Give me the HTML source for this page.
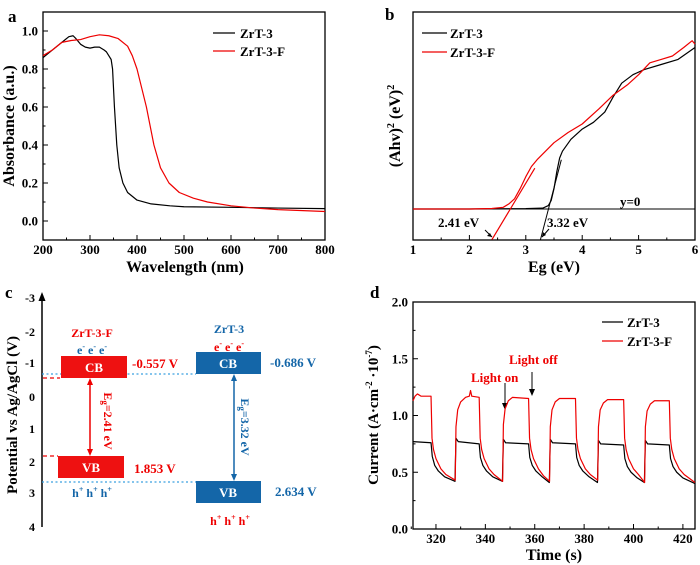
<!DOCTYPE html>
<html><head><meta charset="utf-8">
<style>
html,body{margin:0;padding:0;background:#fff;}
svg{display:block;font-family:"Liberation Serif",serif;font-weight:bold;}
</style></head>
<body>
<svg id="fig" width="700" height="565" viewBox="0 0 700 565">
  <g>
    <text x="8" y="22" font-size="17">a</text>
    <rect x="43" y="12" width="282" height="228" fill="none" stroke="#000" stroke-width="1.3"/>
    <text x="185" y="272" font-size="16" text-anchor="middle">Wavelength (nm)</text>
    <text transform="translate(14,126) rotate(-90)" font-size="16" text-anchor="middle">Absorbance (a.u.)</text>
    <line x1="213" y1="33" x2="235" y2="33" stroke="#000" stroke-width="1.2"/>
    <text x="240" y="38" font-size="13">ZrT-3</text>
    <line x1="213" y1="51" x2="235" y2="51" stroke="#e00" stroke-width="1.2"/>
    <text x="240" y="56" font-size="13">ZrT-3-F</text>
  </g>
  <g>
    <text x="385" y="20" font-size="17">b</text>
    <rect x="413" y="12" width="282" height="228" fill="none" stroke="#000" stroke-width="1.3"/>
    <text x="554" y="272" font-size="16" text-anchor="middle">Eg (eV)</text>
    <text transform="translate(400,126) rotate(-90)" font-size="16" text-anchor="middle">(Ahv)<tspan font-size="10" dy="-6">2</tspan><tspan dy="6"> (eV)</tspan><tspan font-size="10" dy="-6">2</tspan></text>
    <line x1="422" y1="33" x2="447" y2="33" stroke="#000" stroke-width="1.2"/>
    <text x="450" y="38" font-size="13">ZrT-3</text>
    <line x1="422" y1="52" x2="447" y2="52" stroke="#e00" stroke-width="1.2"/>
    <text x="450" y="57" font-size="13">ZrT-3-F</text>
    <text x="620" y="206" font-size="13">y=0</text>
    <text x="438" y="227" font-size="13">2.41 eV</text>
    <line x1="485" y1="230" x2="492" y2="237" stroke="#000" stroke-width="1"/>
    <path d="M492,237 l-5,-1 l3,-3 z" fill="#000"/>
    <text x="547" y="227" font-size="13">3.32 eV</text>
    <line x1="549" y1="229" x2="542" y2="237" stroke="#000" stroke-width="1"/>
    <path d="M542,237 l1,-5 l3,3 z" fill="#000"/>
  </g>
  <g>
    <text x="5" y="298" font-size="17">c</text>
    <line x1="42" y1="527" x2="42" y2="300" stroke="#000" stroke-width="1.5"/>
    <path d="M42,292 l-3.5,9 l7,0 z" fill="#000"/>
    <g font-size="12" text-anchor="end">
      <text x="35" y="302">-3</text><text x="35" y="336">-2</text><text x="35" y="367">-1</text><text x="35" y="401">0</text>
      <text x="35" y="433">1</text><text x="35" y="466">2</text><text x="35" y="497">3</text><text x="35" y="531">4</text>
    </g>
    <text transform="translate(17,415) rotate(-90)" font-size="15" text-anchor="middle">Potential vs Ag/AgCl (V)</text>
    <line x1="42" y1="374" x2="196" y2="374" stroke="#3aa0e0" stroke-width="1.3" stroke-dasharray="2,2.5"/>
    <line x1="42" y1="482" x2="196" y2="482" stroke="#3aa0e0" stroke-width="1.3" stroke-dasharray="2,2.5"/>
    <line x1="43" y1="378" x2="60" y2="378" stroke="#e00" stroke-width="1.3" stroke-dasharray="4,3"/>
    <line x1="43" y1="456" x2="58" y2="456" stroke="#e00" stroke-width="1.3" stroke-dasharray="4,3"/>
    <rect x="61" y="356" width="66" height="22" fill="#ee1111"/>
    <text x="94" y="372" font-size="13" fill="#fff" text-anchor="middle">CB</text>
    <rect x="58" y="456" width="66" height="22" fill="#ee1111"/>
    <text x="91" y="472" font-size="13" fill="#fff" text-anchor="middle">VB</text>
    <rect x="196" y="352" width="65" height="22" fill="#1466a8"/>
    <text x="228" y="368" font-size="13" fill="#fff" text-anchor="middle">CB</text>
    <rect x="196" y="481" width="65" height="22" fill="#1466a8"/>
    <text x="228" y="497" font-size="13" fill="#fff" text-anchor="middle">VB</text>
    <line x1="90" y1="384" x2="90" y2="450" stroke="#e00" stroke-width="1.5"/>
    <path d="M90,378 l-3,7 l6,0 z M90,456 l-3,-7 l6,0 z" fill="#e00"/>
    <line x1="234" y1="380" x2="234" y2="475" stroke="#1466a8" stroke-width="1.5"/>
    <path d="M234,374 l-3,7 l6,0 z M234,481 l-3,-7 l6,0 z" fill="#1466a8"/>
    <text transform="translate(104,421) rotate(90)" font-size="12" fill="#e00" text-anchor="middle">E<tspan font-size="9" dy="2">g</tspan><tspan dy="-2">=2.41 eV</tspan></text>
    <text transform="translate(241,427) rotate(90)" font-size="12" fill="#1466a8" text-anchor="middle">E<tspan font-size="9" dy="2">g</tspan><tspan dy="-2">=3.32 eV</tspan></text>
    <text x="92" y="337" font-size="12" fill="#e00" text-anchor="middle">ZrT-3-F</text>
    <text x="92" y="354" font-size="12" fill="#1466a8" text-anchor="middle">e<tspan font-size="8" dy="-5">-</tspan><tspan dy="5"> e</tspan><tspan font-size="8" dy="-5">-</tspan><tspan dy="5"> e</tspan><tspan font-size="8" dy="-5">-</tspan></text>
    <text x="132" y="368" font-size="13" fill="#e00">-0.557 V</text>
    <text x="134" y="473" font-size="13" fill="#e00">1.853 V</text>
    <text x="92" y="497" font-size="12" fill="#1466a8" text-anchor="middle">h<tspan font-size="8" dy="-5">+</tspan><tspan dy="5"> h</tspan><tspan font-size="8" dy="-5">+</tspan><tspan dy="5"> h</tspan><tspan font-size="8" dy="-5">+</tspan></text>
    <text x="229" y="333" font-size="12" fill="#1466a8" text-anchor="middle">ZrT-3</text>
    <text x="229" y="351" font-size="12" fill="#e00" text-anchor="middle">e<tspan font-size="8" dy="-5">-</tspan><tspan dy="5"> e</tspan><tspan font-size="8" dy="-5">-</tspan><tspan dy="5"> e</tspan><tspan font-size="8" dy="-5">-</tspan></text>
    <text x="270" y="367" font-size="13" fill="#1466a8">-0.686 V</text>
    <text x="275" y="496" font-size="13" fill="#1466a8">2.634 V</text>
    <text x="230" y="525" font-size="12" fill="#e00" text-anchor="middle">h<tspan font-size="8" dy="-5">+</tspan><tspan dy="5"> h</tspan><tspan font-size="8" dy="-5">+</tspan><tspan dy="5"> h</tspan><tspan font-size="8" dy="-5">+</tspan></text>
  </g>
  <g>
    <text x="370" y="298" font-size="17">d</text>
    <rect x="413" y="302" width="282" height="227" fill="none" stroke="#000" stroke-width="1.3"/>
    <text x="554" y="560" font-size="16" text-anchor="middle">Time (s)</text>
    <text transform="translate(378,415) rotate(-90)" font-size="15" text-anchor="middle">Current (A·cm<tspan font-size="9" dy="-6">-2</tspan><tspan dy="6"> ·10</tspan><tspan font-size="9" dy="-6">-7</tspan><tspan dy="6">)</tspan></text>
    <line x1="602" y1="322" x2="623" y2="322" stroke="#000" stroke-width="1.2"/>
    <text x="627" y="327" font-size="13">ZrT-3</text>
    <line x1="602" y1="341" x2="623" y2="341" stroke="#e00" stroke-width="1.2"/>
    <text x="627" y="346" font-size="13">ZrT-3-F</text>
    <text x="471" y="382" font-size="13" fill="#e00">Light on</text>
    <text x="509" y="364" font-size="13" fill="#e00">Light off</text>
    <line x1="505" y1="383" x2="505" y2="404" stroke="#000" stroke-width="1"/>
    <path d="M505,410 l-3,-7 l6,0 z" fill="#000"/>
    <line x1="532" y1="372" x2="532" y2="390" stroke="#000" stroke-width="1"/>
    <path d="M532,396 l-3,-7 l6,0 z" fill="#000"/>
  </g>
</svg>
<script>
const aTicksX = [200, 300, 400, 500, 600, 700, 800];
const aTicksY = [0.0, 0.2, 0.4, 0.6, 0.8, 1.0];
const aTickLabelsY = ["0.0", "0.2", "0.4", "0.6", "0.8", "1.0"];
const aBlackX = [200,210,230,245,255,264,270,280,290,300,310,320,330,335,340,345,348,352,357,362,370,380,400,430,470,500,600,700,800];
const aBlackY = [0.86,0.88,0.92,0.95,0.97,0.975,0.96,0.93,0.915,0.91,0.915,0.915,0.9,0.89,0.87,0.85,0.8,0.6,0.4,0.28,0.2,0.15,0.11,0.09,0.08,0.075,0.072,0.068,0.065];
const aRedX = [200,220,240,260,280,300,320,340,360,380,390,400,410,420,428,436,450,468,490,520,550,600,650,700,800];
const aRedY = [0.87,0.9,0.94,0.95,0.955,0.97,0.98,0.975,0.96,0.92,0.87,0.8,0.7,0.6,0.5,0.4,0.28,0.2,0.15,0.12,0.1,0.08,0.068,0.06,0.05];
const bTicksX = [1, 2, 3, 4, 5, 6];
const bBlackX = [1,2,3,3.3,3.4,3.45,3.5,3.55,3.6,3.65,3.8,4,4.2,4.4,4.55,4.7,4.9,5.1,5.4,5.7,6];
const bBlackY = [0,0,0.002,0.005,0.02,0.05,0.12,0.22,0.3,0.34,0.41,0.47,0.51,0.57,0.66,0.74,0.79,0.82,0.85,0.88,0.95];
const bRedX = [1,2,2.4,2.6,2.7,2.8,2.9,3.0,3.1,3.2,3.35,3.5,3.75,4,4.3,4.55,4.8,5.0,5.2,5.4,5.6,5.8,5.95,6];
const bRedY = [0,0,0.003,0.01,0.03,0.06,0.12,0.19,0.25,0.29,0.34,0.39,0.45,0.5,0.59,0.67,0.73,0.79,0.86,0.88,0.9,0.95,0.99,0.97];
const bTangentRedX = [2.4, 3.16];
const bTangentRedY = [-0.18, 0.24];
const bTangentBlackX = [3.26, 3.63];
const bTangentBlackY = [-0.18, 0.29];
const dTicksX = [320, 340, 360, 380, 400, 420];
const dTicksY = [0.0, 0.5, 1.0, 1.5, 2.0];
const dTickLabelsY = ["0.0", "0.5", "1.0", "1.5", "2.0"];
const dRedT = [310.7,311.5,312.5,314,318,318.4,319,320,322,324,327.8,
 328.1,328.8,330,332,333.5,334,334.5,337.5,337.9,338.5,339.5,341.5,343.5,347,
 347.3,348,349.3,351,357.5,357.9,358.5,359.5,361.5,363.5,366,
 366.3,367,368.3,370,376.5,376.9,377.5,378.5,380.5,382.5,385.5,
 385.8,386.5,387.8,389.5,396,396.4,397,398,400,402,404.5,
 404.8,405.5,406.8,408.5,414.5,414.9,415.5,416.5,418.5,420.5,424.9];
const dRedV = [1.13,1.17,1.19,1.17,1.17,0.8,0.7,0.62,0.53,0.48,0.43,
 0.9,1.05,1.12,1.16,1.17,1.22,1.17,1.16,0.8,0.7,0.62,0.53,0.48,0.42,
 0.92,1.06,1.13,1.16,1.15,0.8,0.7,0.62,0.53,0.47,0.42,
 0.9,1.05,1.12,1.15,1.15,0.8,0.7,0.62,0.53,0.48,0.43,
 0.9,1.05,1.11,1.14,1.14,0.8,0.7,0.62,0.53,0.48,0.41,
 0.9,1.04,1.1,1.13,1.13,0.8,0.7,0.62,0.53,0.48,0.41];
const dBlackT = [310.7,318,318.5,319.5,321,323.5,327.7,
 328.1,329,337.5,338,339,340.5,343,346.9,
 347.3,348.2,357.5,358,359,360.5,363,365.9,
 366.3,367.2,376.5,377,378,379.5,382,385.4,
 385.8,386.7,396,396.5,397.5,399,401.5,404.4,
 404.8,405.7,414.5,415,416,417.5,420,424.9];
const dBlackV = [0.77,0.76,0.64,0.56,0.51,0.46,0.42,
 0.8,0.77,0.75,0.63,0.56,0.51,0.46,0.42,
 0.79,0.76,0.75,0.63,0.56,0.51,0.46,0.41,
 0.79,0.76,0.75,0.63,0.56,0.51,0.46,0.41,
 0.78,0.75,0.74,0.62,0.55,0.5,0.45,0.41,
 0.78,0.75,0.74,0.62,0.55,0.5,0.45,0.4];

const NS = 'http://www.w3.org/2000/svg';
const svg = document.getElementById('fig');
function lin(d0, d1, r0, r1) { return v => r0 + (v - d0) * (r1 - r0) / (d1 - d0); }
function mk(tag, attrs, name) {
  const e = document.createElementNS(NS, tag);
  for (const k in attrs) e.setAttribute(k, attrs[k]);
  
  
  svg.appendChild(e);
  return e;
}
function line(xs, ys, sx, sy, color, name, w) {
  const d = xs.map((x, i) => (i ? 'L' : 'M') + sx(x).toFixed(2) + ',' + sy(ys[i]).toFixed(2)).join('');
  return mk('path', { d: d, fill: 'none', stroke: color, 'stroke-width': w || 1.2, 'stroke-linejoin': 'round' }, name);
}
function txt(x, y, s, size, anchor, name) {
  const t = mk('text', { x: x, y: y, 'font-size': size, 'text-anchor': anchor }, name);
  t.textContent = s;
  return t;
}

const ax = lin(200, 800, 43, 325), ay = lin(0, 1, 221, 31);
aTicksX.forEach((v, i) => {
  mk('line', { x1: ax(v), x2: ax(v), y1: 240, y2: 235, stroke: '#000', 'stroke-width': 1 }, 'panel-a-x-tick');
  if (i < aTicksX.length - 1) mk('line', { x1: ax(v + 50), x2: ax(v + 50), y1: 240, y2: 237.5, stroke: '#000', 'stroke-width': 1 }, 'panel-a-x-minor-tick');
  txt(ax(v), 254, String(v), 13, 'middle', 'panel-a-x-tick-label');
});
aTicksY.forEach((v, i) => {
  mk('line', { x1: 43, x2: 48, y1: ay(v), y2: ay(v), stroke: '#000', 'stroke-width': 1 }, 'panel-a-y-tick');
  mk('line', { x1: 43, x2: 45.5, y1: ay(v + 0.1), y2: ay(v + 0.1), stroke: '#000', 'stroke-width': 1 }, 'panel-a-y-minor-tick');
  txt(38, ay(v) + 4.5, aTickLabelsY[i], 13, 'end', 'panel-a-y-tick-label');
});
line(aBlackX, aBlackY, ax, ay, '#000', 'panel-a-series-zrt3');
line(aRedX, aRedY, ax, ay, '#e00', 'panel-a-series-zrt3f');

const bx = lin(1, 6, 413, 695), by = lin(0, 1, 209, 39);
bTicksX.forEach((v, i) => {
  mk('line', { x1: bx(v), x2: bx(v), y1: 240, y2: 235, stroke: '#000', 'stroke-width': 1 }, 'panel-b-x-tick');
  if (i < bTicksX.length - 1) mk('line', { x1: bx(v + 0.5), x2: bx(v + 0.5), y1: 240, y2: 237.5, stroke: '#000', 'stroke-width': 1 }, 'panel-b-x-minor-tick');
  txt(bx(v), 254, String(v), 13, 'middle', 'panel-b-x-tick-label');
});
mk('line', { x1: 413, x2: 695, y1: by(0), y2: by(0), stroke: '#000', 'stroke-width': 1 }, 'y-zero-line');
line(bBlackX, bBlackY, bx, by, '#000', 'panel-b-series-zrt3');
line(bRedX, bRedY, bx, by, '#e00', 'panel-b-series-zrt3f');
line(bTangentBlackX, bTangentBlackY, bx, by, '#000', 'panel-b-tangent-zrt3', 1);
line(bTangentRedX, bTangentRedY, bx, by, '#e00', 'panel-b-tangent-zrt3f', 1.2);

const dx = lin(310.7, 424.9, 413, 695), dy = lin(0, 2, 529, 302);
dTicksX.forEach((v, i) => {
  mk('line', { x1: dx(v), x2: dx(v), y1: 529, y2: 524, stroke: '#000', 'stroke-width': 1 }, 'panel-d-x-tick');
  mk('line', { x1: dx(v - 10), x2: dx(v - 10), y1: 529, y2: 526.5, stroke: '#000', 'stroke-width': 1 }, 'panel-d-x-minor-tick');
  txt(dx(v), 543, String(v), 13, 'middle', 'panel-d-x-tick-label');
});
dTicksY.forEach((v, i) => {
  mk('line', { x1: 413, x2: 418, y1: dy(v), y2: dy(v), stroke: '#000', 'stroke-width': 1 }, 'panel-d-y-tick');
  if (i < dTicksY.length - 1) mk('line', { x1: 413, x2: 415.5, y1: dy(v + 0.25), y2: dy(v + 0.25), stroke: '#000', 'stroke-width': 1 }, 'panel-d-y-minor-tick');
  txt(408, dy(v) + 4.5, dTickLabelsY[i], 13, 'end', 'panel-d-y-tick-label');
});
line(dBlackT, dBlackV, dx, dy, '#000', 'panel-d-series-zrt3');
line(dRedT, dRedV, dx, dy, '#e00', 'panel-d-series-zrt3f');
</script>
</body></html>
